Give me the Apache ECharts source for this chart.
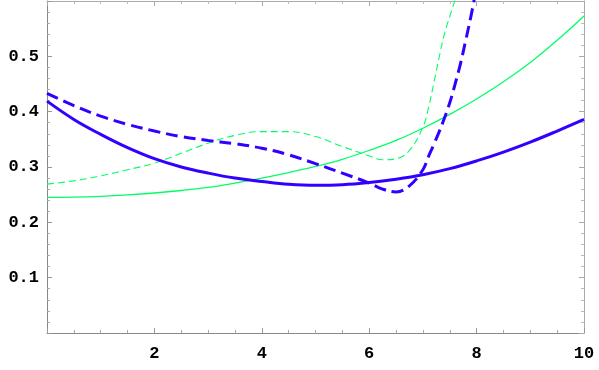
<!DOCTYPE html>
<html>
<head>
<meta charset="utf-8">
<script src="https://cdn.jsdelivr.net/npm/echarts@6/dist/echarts.min.js"></script>
<style>html,body{margin:0;padding:0;background:#fff}#c{width:599px;height:370px}</style>
</head>
<body>
<div id="c"></div>
<script>
// Data
var blueSolidX = [0, 0.5, 1, 1.5, 2, 2.5, 3, 3.5, 4, 4.5, 5, 5.5, 6, 6.5, 7, 7.5, 8, 8.5, 9, 9.5, 10];
var blueSolidY = [0.419, 0.386, 0.359, 0.335, 0.315, 0.300, 0.289, 0.280, 0.274, 0.269, 0.267, 0.268, 0.272, 0.278, 0.286, 0.297, 0.311, 0.327, 0.345, 0.365, 0.386];

var blueDashX = [0, 0.5, 1, 1.5, 2, 2.5, 3, 3.5, 4, 4.5, 5, 5.5, 6, 6.25, 6.5, 6.75, 7, 7.1, 7.2, 7.3, 7.4, 7.5, 7.6, 7.7, 7.8, 7.9, 8.0];
var blueDashY = [0.433, 0.411, 0.392, 0.377, 0.365, 0.355, 0.348, 0.342, 0.334, 0.322, 0.306, 0.289, 0.271, 0.260, 0.255, 0.266, 0.295, 0.318, 0.340, 0.363, 0.388, 0.416, 0.450, 0.487, 0.530, 0.575, 0.625];

var greenSolidX = [0, 0.5, 1, 1.5, 2, 2.5, 3, 3.5, 4, 4.5, 5, 5.5, 6, 6.5, 7, 7.5, 8, 8.5, 9, 9.5, 10];
var greenSolidY = [0.245, 0.2455, 0.247, 0.2495, 0.253, 0.2575, 0.263, 0.271, 0.280, 0.290, 0.301, 0.314, 0.330, 0.348, 0.370, 0.395, 0.423, 0.454, 0.489, 0.529, 0.573];

var greenDashX = [0, 0.5, 1, 1.5, 2, 2.5, 3, 3.5, 4, 4.5, 5, 5.5, 6, 6.25, 6.5, 6.75, 7, 7.1, 7.2, 7.3, 7.4, 7.5, 7.6, 7.7];
var greenDashY = [0.269, 0.275, 0.284, 0.295, 0.307, 0.325, 0.343, 0.357, 0.364, 0.364, 0.355, 0.337, 0.320, 0.313, 0.315, 0.330, 0.372, 0.405, 0.450, 0.497, 0.540, 0.572, 0.603, 0.640];

var xTicks = [2, 4, 6, 8, 10];
var yTicks = [0.1, 0.2, 0.3, 0.4, 0.5];

function pairs(xs, ys) { return xs.map(function (x, i) { return [x, ys[i]]; }); }

var BLUE = '#3300ff', GREEN = '#00ff66';
var labelFont = { fontFamily: 'Liberation Mono', fontWeight: 'bold', fontSize: 17, color: '#000' };

var chart = echarts.init(document.getElementById('c'), null, { renderer: 'canvas' });
chart.setOption({
  animation: false,
  grid: { left: 47, right: 15, top: 1, bottom: 37, containLabel: false },
  xAxis: [
    {
      type: 'value', min: 0, max: 10, interval: 2, position: 'bottom',
      axisLine: { show: true, onZero: false, lineStyle: { color: '#888', width: 1 } },
      axisTick: { show: true, inside: true, length: 5, lineStyle: { color: '#999' } },
      minorTick: { show: true, splitNumber: 4, length: 3, lineStyle: { color: '#aaa' } },
      splitLine: { show: false },
      axisLabel: Object.assign({ margin: 12, formatter: function (v) { return xTicks.indexOf(v) >= 0 ? String(v) : ''; } }, labelFont)
    },
    {
      type: 'value', min: 0, max: 10, interval: 2, position: 'top',
      axisLine: { show: true, onZero: false, lineStyle: { color: '#aaa', width: 1 } },
      axisTick: { show: true, inside: true, length: 5, lineStyle: { color: '#aaa' } },
      minorTick: { show: true, splitNumber: 4, length: 3, lineStyle: { color: '#bbb' } },
      splitLine: { show: false },
      axisLabel: { show: false }
    }
  ],
  yAxis: [
    {
      type: 'value', min: 0, max: 0.6, interval: 0.1, position: 'left',
      axisLine: { show: true, onZero: false, lineStyle: { color: '#888', width: 1 } },
      axisTick: { show: true, inside: true, length: 5, lineStyle: { color: '#999' } },
      minorTick: { show: true, splitNumber: 5, length: 3, lineStyle: { color: '#aaa' } },
      splitLine: { show: false },
      axisLabel: Object.assign({ margin: 8, formatter: function (v) {
        for (var i = 0; i < yTicks.length; i++) { if (Math.abs(v - yTicks[i]) < 1e-9) return yTicks[i].toFixed(1); }
        return '';
      } }, labelFont)
    },
    {
      type: 'value', min: 0, max: 0.6, interval: 0.1, position: 'right',
      axisLine: { show: true, onZero: false, lineStyle: { color: '#aaa', width: 1 } },
      axisTick: { show: true, inside: true, length: 5, lineStyle: { color: '#aaa' } },
      minorTick: { show: true, splitNumber: 5, length: 3, lineStyle: { color: '#bbb' } },
      splitLine: { show: false },
      axisLabel: { show: false }
    }
  ],
  series: [
    { type: 'line', data: pairs(greenSolidX, greenSolidY), smooth: 0.4, showSymbol: false, clip: true,
      lineStyle: { color: GREEN, width: 1.3 } },
    { type: 'line', data: pairs(greenDashX, greenDashY), smooth: 0.4, showSymbol: false, clip: true,
      lineStyle: { color: GREEN, width: 1.1, type: [7, 4] } },
    { type: 'line', data: pairs(blueSolidX, blueSolidY), smooth: 0.4, showSymbol: false, clip: true,
      lineStyle: { color: BLUE, width: 3 } },
    { type: 'line', data: pairs(blueDashX, blueDashY), smooth: 0.4, showSymbol: false, clip: true,
      lineStyle: { color: BLUE, width: 3, type: [12, 6] } }
  ]
});
</script>
</body>
</html>
